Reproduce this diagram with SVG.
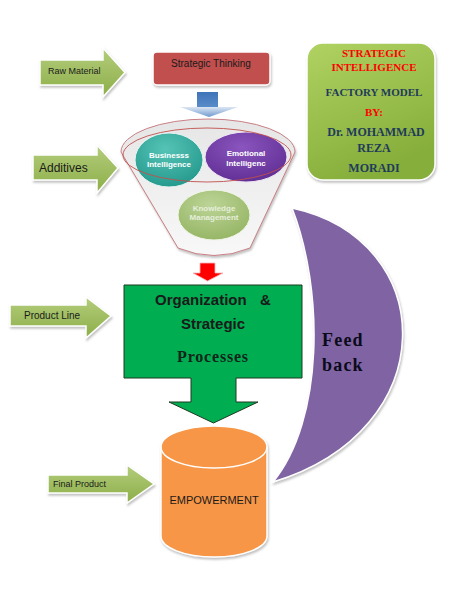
<svg xmlns="http://www.w3.org/2000/svg" width="455" height="604" viewBox="0 0 455 604">
<defs>
<filter id="sh" x="-20%" y="-20%" width="140%" height="150%">
<feDropShadow dx="1" dy="2" stdDeviation="1.2" flood-color="#777" flood-opacity="0.45"/>
</filter>
<linearGradient id="gArrow" x1="0" y1="0" x2="0" y2="1">
<stop offset="0" stop-color="#B4CD7C"/>
<stop offset="1" stop-color="#8CAE48"/>
</linearGradient>
<linearGradient id="gPanel" x1="0" y1="0" x2="0.4" y2="1">
<stop offset="0" stop-color="#B0D262"/>
<stop offset="1" stop-color="#86AE3A"/>
</linearGradient>
<linearGradient id="gFunnel" x1="0" y1="0" x2="0" y2="1">
<stop offset="0" stop-color="#E6E6E6"/>
<stop offset="1" stop-color="#F8F8F8"/>
</linearGradient>
<linearGradient id="gBlue" x1="0" y1="0" x2="0" y2="1">
<stop offset="0" stop-color="#3F74B8"/>
<stop offset="1" stop-color="#5B8DC9"/>
</linearGradient>
<linearGradient id="gBlueHead" x1="0" y1="0" x2="0" y2="1">
<stop offset="0" stop-color="#DCE6F2"/>
<stop offset="1" stop-color="#6E9AD0"/>
</linearGradient>
<radialGradient id="gTeal" cx="0.45" cy="0.3" r="0.75">
<stop offset="0" stop-color="#55C4B6"/>
<stop offset="1" stop-color="#23978B"/>
</radialGradient>
<radialGradient id="gPurple" cx="0.45" cy="0.3" r="0.75">
<stop offset="0" stop-color="#8A55BE"/>
<stop offset="1" stop-color="#5E2D92"/>
</radialGradient>
<radialGradient id="gKM" cx="0.45" cy="0.3" r="0.75">
<stop offset="0" stop-color="#BCD497"/>
<stop offset="1" stop-color="#94B462"/>
</radialGradient>
<style>
.arrow{fill:url(#gArrow);stroke:#FFFFFF;stroke-width:1.5;filter:url(#sh)}
.lbl{font-family:"Liberation Sans",Arial,sans-serif;fill:#1A1A1A}
.ser{font-family:"Liberation Serif","Times New Roman",serif;font-weight:bold}
.circ{font-family:"Liberation Sans",Arial,sans-serif;font-weight:bold;font-size:8px;text-anchor:middle}
</style>
</defs>
<rect width="455" height="604" fill="#FFFFFF"/>

<g id="connectors">
<g id="arrow-blue">
<rect x="197" y="92" width="21" height="16" fill="url(#gBlue)"/>
<path d="M180,107 H238 L209,117 Z" fill="url(#gBlueHead)"/>
</g>
<g id="arrow-red">
<path d="M200,263 H215 V273 H223 L207.5,281 L193,273 H200 Z" fill="#FF0000" stroke="#F5B5B5" stroke-width="0.8"/>
</g>
</g>

<g id="raw-material">
<path class="arrow" d="M40,60 H103 V48 L125,72.5 L103,97 V85 H40 Z"/>
<text class="lbl" x="48" y="74" font-size="9">Raw Material</text>
</g>

<g id="additives">
<path class="arrow" d="M33,155 H97 V145 L118,168 L97,193 V180 H33 Z"/>
<text class="lbl" x="39" y="172" font-size="12">Additives</text>
</g>

<g id="product-line">
<path class="arrow" d="M10,305 H86 V297 L111,316 L86,338 V326 H10 Z"/>
<text class="lbl" x="24" y="319" font-size="10">Product Line</text>
</g>

<g id="final-product">
<path class="arrow" d="M48,475 H127 V465 L154,484 L127,503 V493 H48 Z"/>
<text class="lbl" x="53" y="487" font-size="9">Final Product</text>
</g>

<g id="strategic-thinking">
<rect x="153" y="52" width="117" height="33" rx="4" fill="#C0504D" stroke="#FFFFFF" stroke-width="1.5" filter="url(#sh)"/>
<text class="lbl" x="211" y="67" font-size="10" text-anchor="middle">Strategic Thinking</text>
</g>

<g id="funnel">
<path d="M121,152 A87,33 0 0 1 295,152 L250,248 Q214,263 178,248 Z" fill="url(#gFunnel)" stroke="#C98085" stroke-width="1" filter="url(#sh)"/>
<g id="business-intelligence">
<ellipse cx="169" cy="160" rx="34" ry="27" fill="url(#gTeal)" stroke="#E8F4F2" stroke-width="1"/>
<text class="circ" fill="#FFFFFF"><tspan x="169" y="158">Businesss</tspan><tspan x="169" y="167">Intelligence</tspan></text>
</g>
<g id="emotional-intelligence">
<ellipse cx="246" cy="157" rx="41" ry="25" fill="url(#gPurple)" stroke="#EDE4F4" stroke-width="1"/>
<text class="circ" fill="#FFFFFF"><tspan x="246" y="156">Emotional</tspan><tspan x="246" y="166">Intelligenc</tspan></text>
</g>
<g id="knowledge-management">
<ellipse cx="214" cy="215" rx="36" ry="25" fill="url(#gKM)" stroke="#F0F5E8" stroke-width="1"/>
<text class="circ" fill="#E6EEDB"><tspan x="214" y="211">Knowledge</tspan><tspan x="214" y="220">Management</tspan></text>
</g>
<ellipse cx="207" cy="155" rx="84" ry="27" fill="none" stroke="#C0504D" stroke-width="0.9"/>
</g>

<g id="organization">
<path d="M124,285 H302 V378 H236 V402 H258 L213.5,423 L169,402 H191 V378 H124 Z" fill="#00AD50" stroke="#1E3A22" stroke-width="1"/>
<text class="lbl" font-size="15" font-weight="bold" fill="#10241A"><tspan x="155" y="305">Organization</tspan><tspan x="260" y="305">&amp;</tspan></text>
<text class="lbl" x="213" y="329" font-size="15" font-weight="bold" text-anchor="middle" fill="#10241A">Strategic</text>
<text class="ser" x="213" y="362" font-size="16" letter-spacing="0.8" text-anchor="middle" fill="#10241A">Processes</text>
</g>

<g id="feedback">
<path d="M292,208 C440,240 445,430 273,482 C324,420 324,290 292,208 Z" fill="#8064A2" stroke="#FFFFFF" stroke-width="1.5" filter="url(#sh)"/>
<text class="ser" font-size="18" letter-spacing="1.2" fill="#0A0A1A"><tspan x="322" y="346">Feed</tspan><tspan x="322" y="371">back</tspan></text>
</g>

<g id="empowerment">
<path d="M161,447 A53,21 0 0 1 267,447 V536 A53,21 0 0 1 161,536 Z" fill="#F79646" stroke="#FFFFFF" stroke-width="1.5" filter="url(#sh)"/>
<path d="M161,447 A53,21 0 0 0 267,447" fill="none" stroke="#FFFFFF" stroke-width="1.5"/>
<text class="lbl" x="214" y="504" font-size="11" text-anchor="middle">EMPOWERMENT</text>
</g>

<g id="title-panel">
<rect x="307" y="43" width="128" height="137" rx="16" fill="url(#gPanel)" stroke="#FFFFFF" stroke-width="1.5" filter="url(#sh)"/>
<g class="ser" font-size="11" text-anchor="middle">
<text x="374" y="57" fill="#FF0000">STRATEGIC</text>
<text x="374" y="71" fill="#FF0000">INTELLIGENCE</text>
<text x="374" y="96" fill="#1F3B5C">FACTORY MODEL</text>
<text x="374" y="116" fill="#FF0000">BY:</text>
<text x="376" y="136" fill="#1F3B5C" font-size="12">Dr. MOHAMMAD</text>
<text x="374" y="152" fill="#1F3B5C" font-size="12">REZA</text>
<text x="374" y="172" fill="#1F3B5C" font-size="12">MORADI</text>
</g>
</g>
</svg>
